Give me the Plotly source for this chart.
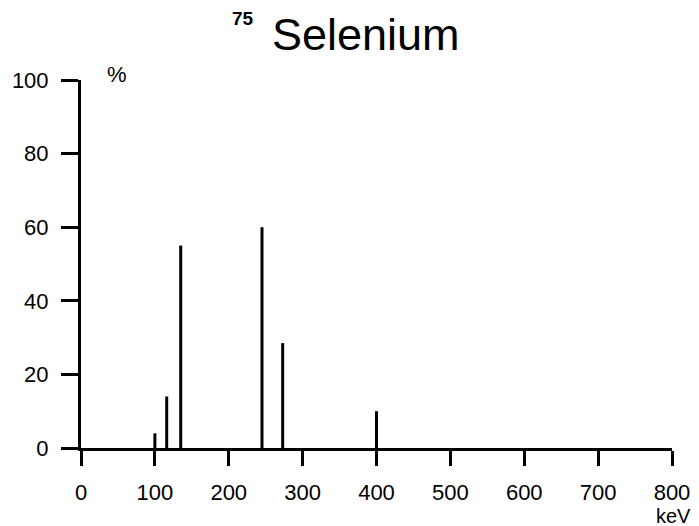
import plotly.graph_objects as go

# Gamma line energies (keV) and relative intensities (%)
energies = [100, 116, 135, 245, 273, 400]
intensities = [4, 14, 55, 60, 28.5, 10]

x_ticks = [0, 100, 200, 300, 400, 500, 600, 700, 800]
y_ticks = [0, 20, 40, 60, 80, 100]

xs, ys = [], []
for e, v in zip(energies, intensities):
    xs += [e, e, None]
    ys += [0, v, None]

FONT = "Liberation Sans, Arial, sans-serif"
OFF = 8  # default page body margin
W, H = 699 - OFF, 526 - OFF
L, R, T, B = 81 - OFF, 27, 80 - OFF, 78
pw, ph = W - L - R, H - T - B

def px(x):
    return (x - OFF - L) / pw

def py(y):
    return (H - B - (y - OFF)) / ph

fig = go.Figure()
fig.add_trace(go.Scatter(x=xs, y=ys, mode="lines",
                         line=dict(color="black", width=3),
                         hoverinfo="skip", showlegend=False))

fig.update_layout(
    template="none",
    width=W, height=H,
    margin=dict(l=L, r=R, t=T, b=B, pad=0),
    paper_bgcolor="white", plot_bgcolor="white",
    showlegend=False,
    font=dict(family=FONT, color="black", size=22),
    xaxis=dict(range=[0, 800], tickvals=x_ticks, ticktext=[str(t) for t in x_ticks],
               showgrid=False, zeroline=False, showline=True, linecolor="black",
               linewidth=3, ticks="outside", ticklen=15, tickwidth=3, tickcolor="black",
               tickfont=dict(family=FONT, size=22, color="black"),
               ticklabelstandoff=8, automargin=False, fixedrange=True),
    yaxis=dict(range=[0, 100], tickvals=y_ticks, ticktext=[str(t) for t in y_ticks],
               showgrid=False, zeroline=False, showline=True, linecolor="black",
               linewidth=3, ticks="outside", ticklen=17, tickwidth=3, tickcolor="black",
               tickfont=dict(family=FONT, size=22, color="black"),
               ticklabelstandoff=8, automargin=False, fixedrange=True),
    annotations=[
        dict(text="Selenium", xref="paper", yref="paper", x=px(366), y=py(34),
             xanchor="center", yanchor="middle", showarrow=False,
             font=dict(family=FONT, size=45, color="black")),
        dict(text="<b>75</b>", xref="paper", yref="paper", x=px(243), y=py(18),
             xanchor="center", yanchor="middle", showarrow=False,
             font=dict(family=FONT, size=19, color="black")),
        dict(text="%", xref="paper", yref="paper", x=px(117), y=py(74),
             xanchor="center", yanchor="middle", showarrow=False,
             font=dict(family=FONT, size=22, color="black")),
        dict(text="keV", xref="paper", yref="paper", x=px(673), y=py(516),
             xanchor="center", yanchor="middle", showarrow=False,
             font=dict(family=FONT, size=20, color="black")),
    ],
)

fig.write_html("out.html")
